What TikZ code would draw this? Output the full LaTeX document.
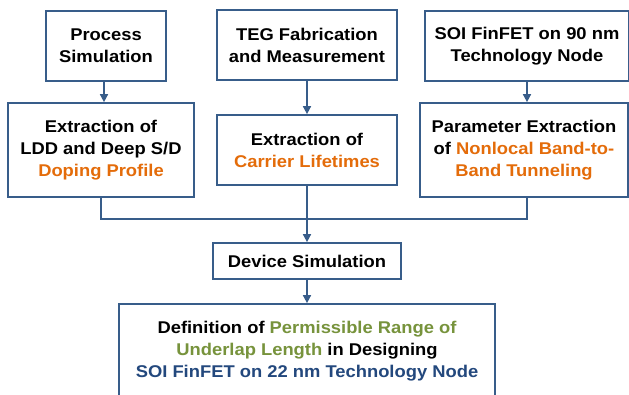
\documentclass[tikz,border=0pt]{standalone}
\usepackage{fontspec}
\setmainfont[FakeStretch=1.08]{Liberation Sans}
\usetikzlibrary{arrows.meta}
\definecolor{edge}{RGB}{56,93,138}
\definecolor{hl}{RGB}{228,108,10}
\definecolor{gr}{RGB}{119,147,60}
\definecolor{nb}{RGB}{35,72,125}
\begin{document}
\begin{tikzpicture}[x=1pt,y=-1pt,
  box/.style={draw=edge, line width=1.7pt, fill=white, align=center,
    font=\fontsize{17}{22}\selectfont\bfseries, inner sep=0pt},
  link/.style={draw=edge, line width=1.6pt},
  arr/.style={link, -{Triangle[length=8pt,width=8pt]}}]
\useasboundingbox (0,0) rectangle (629,395);
\clip (0,0) rectangle (629,395);

% first row: sources
\node[box, minimum width=120, minimum height=70] (b1) at (106,46) {Process\\Simulation};
\node[box, minimum width=180, minimum height=70] (b2) at (307,45) {TEG Fabrication\\and Measurement};
\node[box, minimum width=204, minimum height=70] (b3) at (527,46) {SOI FinFET on 90 nm\\Technology Node};

% second row: extractions
\node[box, minimum width=186, minimum height=94] (b4) at (101,150)
  {Extraction of\\LDD and Deep S/D\\\textcolor{hl}{Doping Profile}};
\node[box, minimum width=180, minimum height=70] (b5) at (307,150)
  {Extraction of\\\textcolor{hl}{Carrier Lifetimes}};
\node[box, minimum width=208, minimum height=94] (b6) at (524,150)
  {Parameter Extraction\\of \textcolor{hl}{Nonlocal Band-to-}\\\textcolor{hl}{Band Tunneling}};

% simulation and result
\node[box, minimum width=188, minimum height=36] (dev) at (307,261) {Device Simulation};
\node[box, minimum width=376, minimum height=94] (fin) at (307,351)
  {Definition of \textcolor{gr}{Permissible Range of}\\
   \textcolor{gr}{Underlap Length} in Designing\\
   \textcolor{nb}{SOI FinFET on 22 nm Technology Node}};

% connectors
\coordinate (j) at (307,219);
\coordinate (a1) at (104,0);
\draw[arr] (b1.south -| a1) -- (b4.north -| a1);
\draw[arr] (b2.south) -- (b5.north);
\draw[arr] (b3.south) -- (b3.south |- b6.north);
\draw[link] (b4.south) |- (j) -| (b3.south |- b6.south);
\draw[arr] (b5.south) -- (dev.north);
\draw[arr] (dev.south) -- (fin.north);
\end{tikzpicture}
\end{document}
